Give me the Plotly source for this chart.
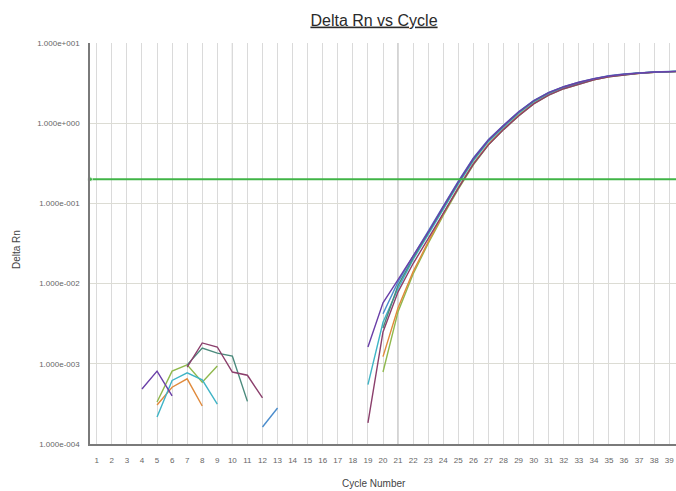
import plotly.graph_objects as go

cycles = list(range(1, 41))
N = None

# Delta Rn per cycle (None = not plotted / non-positive)
sample_a = [N, N, N, 4.85e-4, 8.1e-4, 3.97e-4] + [N] * 12 + [
    1.62e-3, 5.75e-3, 1.12e-2, 2.19e-2, 4.37e-2, 9.12e-2, 0.186, 0.363, 0.617, 0.933, 1.38,
    1.905, 2.40, 2.85, 3.24, 3.59, 3.89, 4.09, 4.24, 4.34, 4.40, 4.47]
sample_b = [N] * 4 + [3.06e-4, 5.1e-4, 6.5e-4, 2.98e-4] + [N] * 11 + [
    1.23e-3, 5.0e-3, 1.41e-2, 3.31e-2, 7.4e-2, 0.158, 0.316, 0.55, 0.851, 1.26, 1.78,
    2.29, 2.75, 3.16, 3.51, 3.82, 4.05, 4.20, 4.31, 4.39, 4.45]
sample_c = [N] * 4 + [2.17e-4, 6.2e-4, 7.7e-4, 6.3e-4, 3.15e-4] + [N] * 9 + [
    5.5e-4, 3.3e-3, 8.7e-3, 2.0e-2, 4.07e-2, 8.5e-2, 0.174, 0.339, 0.589, 0.891, 1.32,
    1.84, 2.34, 2.79, 3.16, 3.53, 3.85, 4.07, 4.22, 4.32, 4.40, 4.46]
sample_d = [N] * 4 + [3.34e-4, 8.1e-4, 9.7e-4, 5.9e-4, 9.4e-4] + [N] * 10 + [
    7.9e-4, 4.47e-3, 1.32e-2, 3.16e-2, 7.08e-2, 0.151, 0.302, 0.537, 0.832, 1.23, 1.74,
    2.24, 2.69, 3.09, 3.47, 3.80, 4.03, 4.19, 4.30, 4.38, 4.44]
sample_e = [N] * 6 + [9.7e-4, 1.57e-3, 1.36e-3, 1.25e-3, 3.4e-4] + [N] * 8 + [
    2.8e-3, 9.5e-3, 2.09e-2, 4.27e-2, 8.9e-2, 0.182, 0.355, 0.61, 0.923, 1.36, 1.88,
    2.39, 2.84, 3.22, 3.57, 3.87, 4.08, 4.23, 4.33, 4.40, 4.46]
sample_f = [N] * 6 + [9.1e-4, 1.82e-3, 1.62e-3, 7.9e-4, 7.2e-4, 3.75e-4] + [N] * 6 + [
    1.83e-4, 2.5e-3, 7.9e-3, 1.78e-2, 3.63e-2, 7.59e-2, 0.155, 0.309, 0.537, 0.832, 1.23,
    1.74, 2.24, 2.69, 3.09, 3.47, 3.80, 4.03, 4.19, 4.30, 4.38, 4.44]
sample_g = [N] * 11 + [1.63e-4, 2.81e-4] + [N] * 6 + [
    4.2e-3, 1.05e-2, 2.2e-2, 4.47e-2, 9.3e-2, 0.19, 0.37, 0.625, 0.94, 1.39, 1.92,
    2.42, 2.86, 3.25, 3.60, 3.90, 4.10, 4.25, 4.35, 4.41, 4.48]

threshold = 0.2
threshold_x = [0.55, 39.45]

y_tickvals = [1e-4, 1e-3, 1e-2, 1e-1, 1e0, 1e1]
y_ticktext = ["1.000e-004", "1.000e-003", "1.000e-002", "1.000e-001", "1.000e+000", "1.000e+001"]
x_tickvals = list(range(1, 40))

series = [
    (sample_d, "#8fb84c"),
    (sample_b, "#e08a3c"),
    (sample_c, "#3fb4c6"),
    (sample_e, "#4a8a7c"),
    (sample_f, "#8b3f6c"),
    (sample_g, "#4a8ccc"),
    (sample_a, "#6a3fa8"),
]

fig = go.Figure()
for vals, col in series:
    fig.add_trace(go.Scatter(x=cycles, y=vals, mode="lines",
                             line=dict(color=col, width=1.4),
                             connectgaps=False, hoverinfo="skip"))

fig.add_trace(go.Scatter(x=threshold_x, y=[threshold, threshold], mode="lines+markers",
                         line=dict(color="#40b447", width=2.2),
                         marker=dict(size=[5, 0], color="#40b447"),
                         hoverinfo="skip", cliponaxis=False))

for xv in (10, 21):
    fig.add_shape(type="line", xref="x", yref="paper", x0=xv, x1=xv, y0=0, y1=1,
                  line=dict(color="#a0a0a0", width=1), layer="below")

fig.update_layout(
    width=676, height=491,
    margin=dict(l=90, r=0, t=43, b=47, autoexpand=False),
    paper_bgcolor="white", plot_bgcolor="white",
    showlegend=False,
    font=dict(family="Liberation Sans, Arial, sans-serif", color="#555555"),
    title=dict(text="<u>Delta Rn vs Cycle</u>", x=374 / 676, xanchor="center",
               y=1 - 20 / 491, yanchor="middle", xref="container", yref="container",
               font=dict(size=16, color="#2a2a2a")),
    annotations=[
        dict(text="Cycle Number", xref="paper", yref="paper", x=(374 - 90) / 586,
             y=-(483 - 444) / 401, xanchor="center", yanchor="middle", showarrow=False,
             font=dict(size=10, color="#444444")),
        dict(text="Delta Rn", xref="paper", yref="paper", x=-(90 - 17) / 586,
             y=(444 - 250) / 401, xanchor="center", yanchor="middle", showarrow=False,
             textangle=-90, font=dict(size=10, color="#444444")),
    ],
)
fig.update_xaxes(range=[0.55, 39.45], tickvals=x_tickvals, ticks="", automargin=False,
                 tickfont=dict(size=8, color="#666666"), ticklabelstandoff=8,
                 showgrid=True, gridcolor="#dadada", gridwidth=1,
                 showline=True, linecolor="#7a7a7a", linewidth=1.5, zeroline=False)
fig.update_yaxes(type="log", range=[-4, 1], tickvals=y_tickvals, ticktext=y_ticktext,
                 ticks="", automargin=False, tickfont=dict(size=8, color="#666666"),
                 ticklabelstandoff=7,
                 showgrid=True, gridcolor="#dcdcd4", gridwidth=1,
                 showline=True, linecolor="#7a7a7a", linewidth=1.5, zeroline=False)

fig.write_html("out.html", config={"displayModeBar": False},
               post_script="document.body.style.margin='0';document.body.style.overflow='hidden';")
